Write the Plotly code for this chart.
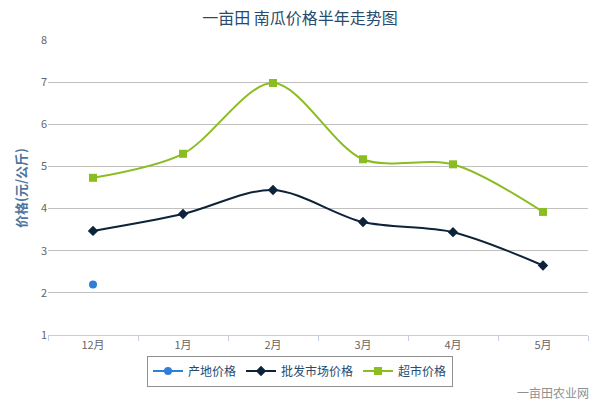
import plotly.graph_objects as go

categories = ["12月", "1月", "2月", "3月", "4月", "5月"]
origin_price = [2.2, None, None, None, None, None]
wholesale_price = [3.47, 3.87, 4.44, 3.68, 3.44, 2.65]
supermarket_price = [4.73, 5.30, 6.98, 5.17, 5.05, 3.92]
y_ticks = [1, 2, 3, 4, 5, 6, 7, 8]

FONT = "Noto Sans CJK SC"

fig = go.Figure()
fig.add_trace(go.Scatter(
    x=categories, y=origin_price, name="产地价格", mode="lines+markers",
    line=dict(color="#2f7ed8", width=2, shape="spline", smoothing=0.9),
    marker=dict(symbol="circle", size=8, color="#2f7ed8"),
))
fig.add_trace(go.Scatter(
    x=categories, y=wholesale_price, name="批发市场价格", mode="lines+markers",
    line=dict(color="#0d233a", width=2, shape="spline", smoothing=0.9),
    marker=dict(symbol="diamond", size=8, color="#0d233a"),
))
fig.add_trace(go.Scatter(
    x=categories, y=supermarket_price, name="超市价格", mode="lines+markers",
    line=dict(color="#8bbc21", width=2, shape="spline", smoothing=0.9),
    marker=dict(symbol="square", size=8, color="#8bbc21"),
))

fig.update_layout(
    width=600, height=400,
    margin=dict(l=48, r=12, t=40, b=65),
    paper_bgcolor="white", plot_bgcolor="white",
    font=dict(family=FONT, size=11, color="#666666"),
    title=dict(text="一亩田 南瓜价格半年走势图", x=0.5, xref="container", xanchor="center",
               y=1 - 18 / 400, yanchor="middle",
               font=dict(family=FONT, size=16, color="#274b6d")),
    showlegend=True,
    legend=dict(orientation="h", x=(300 - 48) / 540, xanchor="center",
                y=(335 - 371) / 295, yanchor="middle",
                bordercolor="#909090", borderwidth=1, bgcolor="white",
                font=dict(family=FONT, size=12, color="#274b6d"),
                itemwidth=30, tracegroupgap=0),
    xaxis=dict(type="category", range=[-0.5, 5.5], showgrid=False,
               showline=True, linecolor="#C0D0E0", linewidth=1,
               ticks="outside", tickson="boundaries", ticklen=5, tickcolor="#C0D0E0",
               tickfont=dict(family=FONT, size=11, color="#666666"), fixedrange=True),
    yaxis=dict(range=[1, 8], tickvals=y_ticks, showgrid=True, gridcolor="#C0C0C0",
               gridwidth=1, zeroline=False, showline=False, ticks="",
               tickfont=dict(family=FONT, size=11, color="#666666"), fixedrange=True),
    annotations=[
        dict(text="<b>价格(元/公斤)</b>", xref="paper", yref="paper",
             x=(20 - 48) / 540, y=(335 - 188) / 295, xanchor="center", yanchor="middle",
             textangle=-90, showarrow=False,
             font=dict(family=FONT, size=13, color="#4d759e")),
        dict(text="一亩田农业网", xref="paper", yref="paper",
             x=(591 - 48) / 540, y=(335 - 392) / 295, xanchor="right", yanchor="middle",
             showarrow=False, font=dict(family=FONT, size=12, color="#909090")),
    ],
)

fig.write_html("out.html")
